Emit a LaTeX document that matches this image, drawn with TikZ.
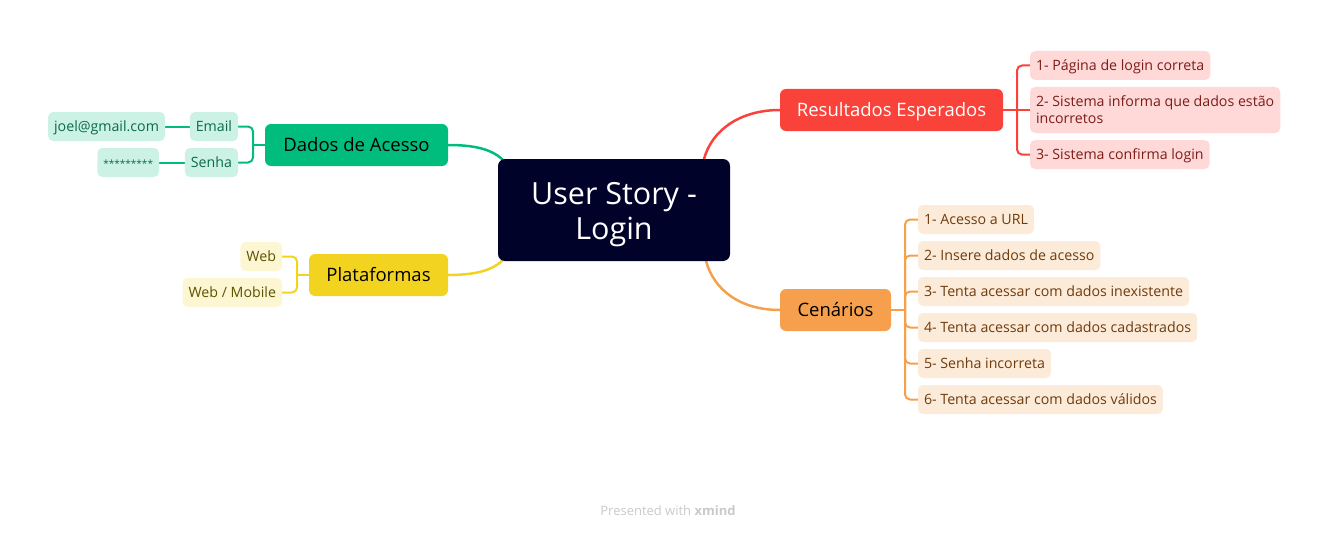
\documentclass[tikz,border=0pt]{standalone}
\usepackage{fontspec}
\setmainfont{Open Sans}
\usetikzlibrary{calc}
\definecolor{cdark}{HTML}{000229}
\definecolor{gmain}{HTML}{00BD7E}
\definecolor{glight}{HTML}{CCF2E5}
\definecolor{gtext}{HTML}{0B6B47}
\definecolor{ymain}{HTML}{F2D420}
\definecolor{ylight}{HTML}{FCF6D2}
\definecolor{ytext}{HTML}{5E5200}
\definecolor{rmain}{HTML}{F9423A}
\definecolor{rlight}{HTML}{FED9D7}
\definecolor{rtext}{HTML}{7D1D1A}
\definecolor{omain}{HTML}{F6A04D}
\definecolor{olight}{HTML}{FDEBDA}
\definecolor{otext}{HTML}{6E3B0C}
\definecolor{foot}{HTML}{C9C9C9}
\pgfdeclarelayer{bg}
\pgfsetlayers{bg,main}
\begin{document}
\begin{tikzpicture}[x=1pt,y=-1pt,
  every node/.style={inner sep=0pt, outer sep=0pt},
  mainbox/.style={rounded corners=6pt, minimum height=42pt, text height=13.5pt, text depth=0pt, font=\fontsize{18.5}{22}\selectfont},
  subbase/.style={rounded corners=5pt, minimum height=29pt, inner xsep=6pt, font=\fontsize{14.2}{17}\selectfont},
  subbox/.style={subbase, text height=10.4pt, text depth=0pt},
  gsub/.style={subbox, fill=glight, text=gtext},
  ysub/.style={subbox, fill=ylight, text=ytext},
  rsub/.style={subbox, fill=rlight, text=rtext, anchor=west},
  osub/.style={subbox, fill=olight, text=otext, anchor=west},
  maincon/.style={line width=2.5pt},
  brack/.style={line width=2pt, rounded corners=5pt},
]
\useasboundingbox (0,0) rectangle (1334,535);

% central
\node[fill=cdark, rounded corners=7pt, minimum width=232pt, minimum height=102pt] (central) at (614,210) {};
\node[text=white, align=center, font=\fontsize{30.5}{35}\selectfont] (centraltext) at (614,215) {User Story -\\Login};

% main branches
\node[mainbox, fill=gmain, minimum width=183pt, text=black] (dados) at (356.5,145) {Dados de Acesso};
\node[mainbox, fill=ymain, minimum width=139pt, text=black] (plat) at (378.5,275) {Plataformas};
\node[mainbox, fill=rmain, minimum width=223pt, text=white] (res) at (891.5,110) {Resultados Esperados};
\node[mainbox, fill=omain, minimum width=111pt, text=black] (cen) at (835.5,310) {Cenários};

% green subs
\node[gsub, anchor=east] (email) at (238,126.5) {Email};
\node[gsub, anchor=east] (senha) at (238,162.5) {Senha};
\node[gsub, anchor=east] (joel) at (165,126.5) {joel@gmail.com};
\node[gsub, anchor=east, minimum width=61pt, font=\fontsize{10}{12}\selectfont] (pwd) at (159,162.5) {*********};

% yellow subs
\node[ysub, anchor=east] (web) at (282,256.5) {Web};
\node[ysub, anchor=east] (webm) at (282,292.5) {Web / Mobile};

% red subs
\node[rsub] (r1) at (1030,65.5) {1- Página de login correta};
\node[subbase, fill=rlight, text=rtext, anchor=west, minimum height=46pt, align=left] (r2) at (1030,110) {2- Sistema informa que dados estão\\incorretos};
\node[rsub] (r3) at (1030,154.5) {3- Sistema confirma login};

% orange subs
\node[osub] (o1) at (918,219.5) {1- Acesso a URL};
\node[osub] (o2) at (918,255.5) {2- Insere dados de acesso};
\node[osub] (o3) at (918,291.5) {3- Tenta acessar com dados inexistente};
\node[osub] (o4) at (918,327.5) {4- Tenta acessar com dados cadastrados};
\node[osub] (o5) at (918,363.5) {5- Senha incorreta};
\node[osub] (o6) at (918,399.5) {6- Tenta acessar com dados válidos};

% footer
\node[text=foot, font=\fontsize{13}{15}\selectfont] (footer) at (668,511) {Presented with \textbf{xmind}};

\coordinate (gj) at (253,145);
\coordinate (yj) at (297,275);
\coordinate (rj) at (1017,110);
\coordinate (oj) at (905,310);

\begin{pgfonlayer}{bg}
% main curves
\draw[maincon, draw=gmain] (dados.east) .. controls (482,145) and (496,152) .. ($(central.north west)+(8,4)$);
\draw[maincon, draw=ymain] (plat.east) .. controls (482,275) and (496,268) .. ($(central.south west)+(8,-4)$);
\draw[maincon, draw=rmain] ($(central.north east)+(-26,0)$) .. controls (712,130) and (740,110) .. (res.west);
\draw[maincon, draw=omain] ($(central.south east)+(-24,0)$) .. controls (714,290) and (740,310) .. (cen.west);

% green brackets
\draw[brack, draw=gmain] (dados.west) -- (gj);
\draw[brack, draw=gmain] (gj) |- (email.east);
\draw[brack, draw=gmain] (gj) |- (senha.east);
\draw[line width=2pt, draw=gmain] (email.west) -- (joel.east);
\draw[line width=2pt, draw=gmain] (senha.west) -- (pwd.east);

% yellow brackets
\draw[brack, draw=ymain] (plat.west) -- (yj);
\draw[brack, draw=ymain] (yj) |- (web.east);
\draw[brack, draw=ymain] (yj) |- (webm.east);

% red brackets
\draw[brack, draw=rmain] (res.east) -- (rj);
\draw[brack, draw=rmain] (rj) |- (r1.west);
\draw[brack, draw=rmain] (rj) -- (r2.west);
\draw[brack, draw=rmain] (rj) |- (r3.west);

% orange brackets
\draw[brack, draw=omain] (cen.east) -- (oj);
\foreach \n in {o1,o2,o3,o4,o5,o6} {
  \draw[brack, draw=omain] (oj) |- (\n.west);
}
\end{pgfonlayer}
\end{tikzpicture}
\end{document}
